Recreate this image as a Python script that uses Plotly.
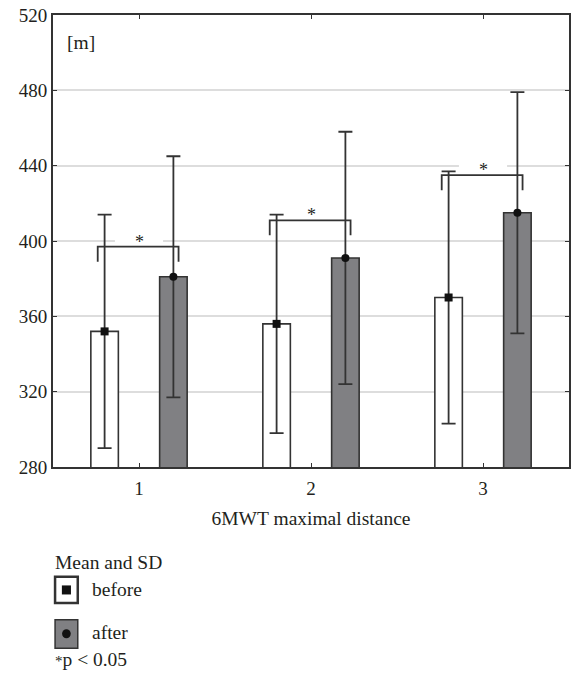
import plotly.graph_objects as go

# ---- data ----
groups = [1, 2, 3]
group_labels = ["1", "2", "3"]
before_mean = [352, 356, 370]
before_sd = [62, 58, 67]
after_mean = [381, 391, 415]
after_sd = [64, 67, 64]
sig_levels = [397, 411, 435]   # height of significance brackets
y_ticks = [280, 320, 360, 400, 440, 480, 520]

FONT = "Liberation Serif"
TXT = "#231f20"
LINE = "#333333"
GRAY = "#808083"
FS = 19.5
OFF = 0.2
BW = 0.16

xb = [g - OFF for g in groups]
xa = [g + OFF for g in groups]

fig = go.Figure()

fig.add_trace(go.Bar(x=xb, y=before_mean, width=BW, marker=dict(color="white",
                     line=dict(color=LINE, width=1.6)), showlegend=False))
fig.add_trace(go.Bar(x=xa, y=after_mean, width=BW, marker=dict(color=GRAY,
                     line=dict(color=LINE, width=1.6)), showlegend=False))

# error bars + means
fig.add_trace(go.Scatter(x=xb, y=before_mean, mode="markers",
                         marker=dict(symbol="square", size=8, color="#111111"),
                         error_y=dict(type="data", array=before_sd, color=LINE, thickness=1.8, width=7),
                         showlegend=False))
fig.add_trace(go.Scatter(x=xa, y=after_mean, mode="markers",
                         marker=dict(symbol="circle", size=8, color="#111111"),
                         error_y=dict(type="data", array=after_sd, color=LINE, thickness=1.8, width=7),
                         showlegend=False))

# significance brackets
for b, a, s in zip(xb, xa, sig_levels):
    fig.add_trace(go.Scatter(x=[b - 0.04, b - 0.04, a + 0.03, a + 0.03],
                             y=[s - 8, s, s, s - 8], mode="lines",
                             line=dict(color=LINE, width=1.8), showlegend=False))
    # white patch that interrupts the grid line behind the asterisk
    fig.add_shape(type="rect", xref="x", yref="y", x0=(b + a) / 2 - 0.14, x1=(b + a) / 2 + 0.14,
                  ysizemode="pixel", yanchor=s, y0=2, y1=11,
                  fillcolor="white", line=dict(width=0), layer="above")
    fig.add_annotation(x=(b + a) / 2, y=s, text="*", showarrow=False, yanchor="bottom",
                       yshift=-7, font=dict(family=FONT, size=18, color=TXT))

fig.update_layout(
    width=573, height=682,
    margin=dict(l=53, r=2, t=15, b=215),
    paper_bgcolor="white", plot_bgcolor="white",
    font=dict(family=FONT, size=FS, color=TXT),
    barmode="overlay",
    xaxis=dict(range=[0.5, 3.5], tickvals=groups, ticktext=group_labels,
               showline=True, linecolor=LINE, linewidth=2, mirror="ticks",
               ticks="inside", ticklen=4, tickcolor=LINE, showgrid=False, zeroline=False,
               ticklabelstandoff=3,
               title=dict(text="6MWT maximal distance", standoff=14,
                          font=dict(family=FONT, size=FS, color=TXT)),
               tickfont=dict(family=FONT, size=19, color=TXT)),
    yaxis=dict(range=[280, 520], tickvals=y_ticks,
               showline=True, linecolor=LINE, linewidth=2, mirror="ticks",
               ticks="inside", ticklen=4, tickcolor=LINE,
               showgrid=True, gridcolor="#dddddd", gridwidth=1.5, zeroline=False,
               tickfont=dict(family=FONT, size=19, color=TXT)),
)

fig.add_annotation(xref="paper", yref="paper", x=0.023, y=0.94, text="[m]", showarrow=False,
                   xanchor="left", yanchor="middle", font=dict(family=FONT, size=FS, color=TXT))

# legend (drawn manually)
fig.add_annotation(xref="paper", yref="paper", x=0.0, y=-0.212, text="Mean and SD", showarrow=False,
                   xanchor="left", yanchor="middle", font=dict(family=FONT, size=FS, color=TXT))
fig.add_annotation(xref="paper", yref="paper", x=0.071, y=-0.272, text="before", showarrow=False,
                   xanchor="left", yanchor="middle", font=dict(family=FONT, size=FS, color=TXT))
fig.add_annotation(xref="paper", yref="paper", x=0.071, y=-0.367, text="after", showarrow=False,
                   xanchor="left", yanchor="middle", font=dict(family=FONT, size=FS, color=TXT))
fig.add_annotation(xref="paper", yref="paper", x=0.0, y=-0.425,
                   text="<span style='font-size:15px'>*</span>p < 0.05", showarrow=False,
                   xanchor="left", yanchor="middle", font=dict(family=FONT, size=FS, color=TXT))

fig.add_shape(type="rect", xref="paper", yref="paper", x0=0.004, x1=0.048, y0=-0.301, y1=-0.243,
              line=dict(color=LINE, width=2.5), fillcolor="white")
fig.add_shape(type="rect", xref="paper", yref="paper", x0=0.0172, x1=0.0348, y0=-0.282, y1=-0.262,
              line=dict(color="#111111", width=0), fillcolor="#111111")
fig.add_shape(type="rect", xref="paper", yref="paper", x0=0.004, x1=0.048, y0=-0.401, y1=-0.338,
              line=dict(color=LINE, width=1.5), fillcolor=GRAY)
fig.add_shape(type="circle", xref="paper", yref="paper", x0=0.0176, x1=0.0344, y0=-0.379, y1=-0.359,
              line=dict(color="#111111", width=0), fillcolor="#111111")

fig.write_html("out.html", config={"displayModeBar": False},
               post_script="document.body.style.margin='0px';")
